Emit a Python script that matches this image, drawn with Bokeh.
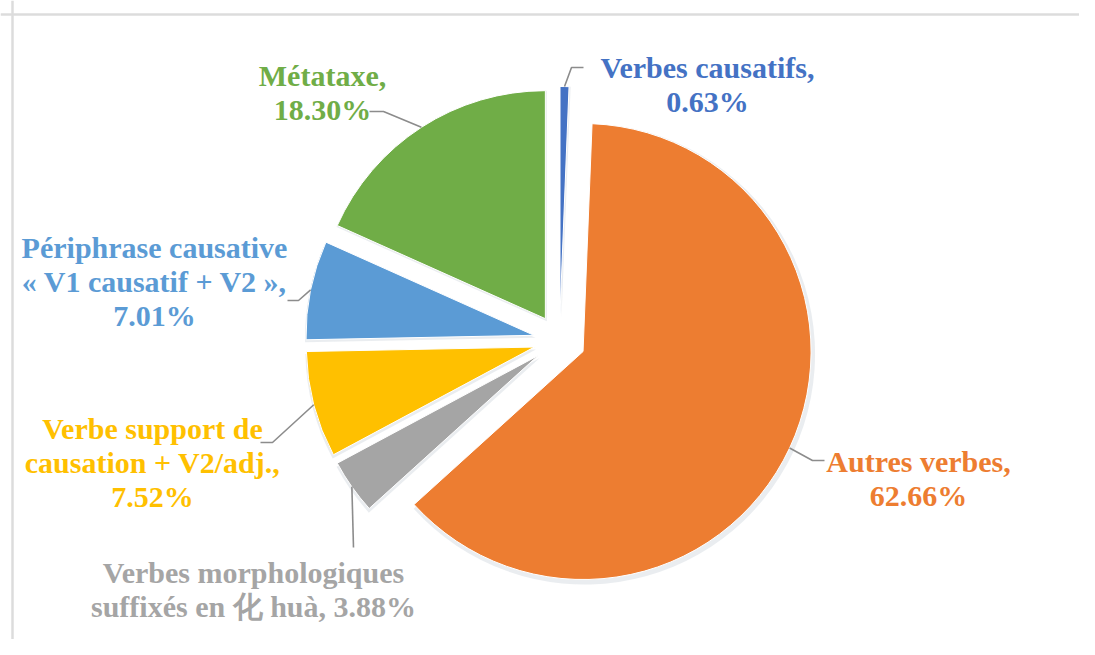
import numpy as np
from bokeh.plotting import figure
from bokeh.models import Range1d, Span, ColumnDataSource
from bokeh.core.properties import value
from bokeh.embed import file_html
from bokeh.resources import INLINE

# ---------------- data ----------------
categories = [
    "Verbes causatifs",
    "Autres verbes",
    "Verbes morphologiques suffixés en 化 huà",
    "Verbe support de causation + V2/adj.",
    "Périphrase causative « V1 causatif + V2 »",
    "Métataxe",
]
percentages = [0.63, 62.66, 3.88, 7.52, 7.01, 18.30]
colors = ["#4472C4", "#ED7D31", "#A5A5A5", "#FFC000", "#5B9BD5", "#70AD47"]
label_templates = [
    ["Verbes causatifs,", "{pct}"],
    ["Autres verbes,", "{pct}"],
    ["Verbes morphologiques", "suffixés en 化 huà, {pct}"],
    ["Verbe support de", "causation + V2/adj.,", "{pct}"],
    ["Périphrase causative", "« V1 causatif + V2 »,", "{pct}"],
    ["Métataxe,", "{pct}"],
]

# ---------------- layout (screen pixel coordinates) ----------------
CX, CY = 559.0, 340.0      # pie centre
R = 228.0                  # radius
EXPLODE = 26.0             # explosion distance
label_x = [707, 918, 253, 152, 154, 322]
label_y0 = [67, 461, 572, 428, 247, 75]
LINE_STEP = 34
leader_elbow = [(571, 67), (812, 460), (353, 547), (272, 442), (298, 300), (383, 111)]
leader_end = [(583, 67), (824, 460), (353, 547), (260, 442), (287, 300), (369, 111)]

FONT = value("Liberation Serif")

p = figure(width=1079, height=639, output_backend="svg", toolbar_location=None,
           x_range=Range1d(0, 1079), y_range=Range1d(-639, 0),
           x_axis_location=None, y_axis_location=None, min_border=0)
p.grid.visible = False
p.outline_line_color = None
p.background_fill_color = "white"
p.border_fill_color = "white"

# chart-area border (left and top visible in the reference)
p.add_layout(Span(location=12, dimension="height", line_color="#DCDCDC", line_width=2.5))
p.add_layout(Span(location=-14, dimension="width", line_color="#DCDCDC", line_width=2.5))

vals = np.array(percentages, dtype=float)
frac = vals / vals.sum()
cum_end = np.cumsum(frac)
cum_start = cum_end - frac
# clockwise from the top -> math angles
start_angle = np.radians(90 - 360 * cum_end)
end_angle = np.radians(90 - 360 * cum_start)
mid = np.radians(90 - 360 * (cum_start + cum_end) / 2)
cx = CX + EXPLODE * np.cos(mid)
cy = -CY + EXPLODE * np.sin(mid)

src = ColumnDataSource(dict(x=cx, y=cy, sa=start_angle, ea=end_angle,
                            color=colors, cat=categories))
shadow = ColumnDataSource(dict(x=cx + 1.5, y=cy - 2.5, sa=start_angle, ea=end_angle))
p.wedge(x="x", y="y", radius=R + 2.5, start_angle="sa", end_angle="ea",
        source=shadow, fill_color="#8C9AAB", fill_alpha=0.18, line_color=None)
p.wedge(x="x", y="y", radius=R, start_angle="sa", end_angle="ea",
        source=src, fill_color="color", line_color="white", line_width=1)

# leader lines: from the arc at the slice bisector to the label
for i in range(len(vals)):
    ax = cx[i] + R * np.cos(mid[i])
    ay = cy[i] + R * np.sin(mid[i])
    ex, ey = leader_elbow[i]
    fx, fy = leader_end[i]
    p.line([ax, ex, fx], [ay, -ey, -fy], line_color="#8C8C8C", line_width=1.6)

# labels
tx, ty, tt, tc = [], [], [], []
for i, tmpl in enumerate(label_templates):
    pct = f"{percentages[i]:.2f}%"
    for k, line in enumerate(tmpl):
        tx.append(label_x[i])
        ty.append(-(label_y0[i] + k * LINE_STEP))
        tt.append(line.format(pct=pct))
        tc.append(colors[i])
p.text(x=tx, y=ty, text=tt, text_color=tc, text_align="center",
       text_baseline="alphabetic", text_font=FONT, text_font_style="bold",
       text_font_size="30px")

open("out.html", "w").write(file_html(p, INLINE))
